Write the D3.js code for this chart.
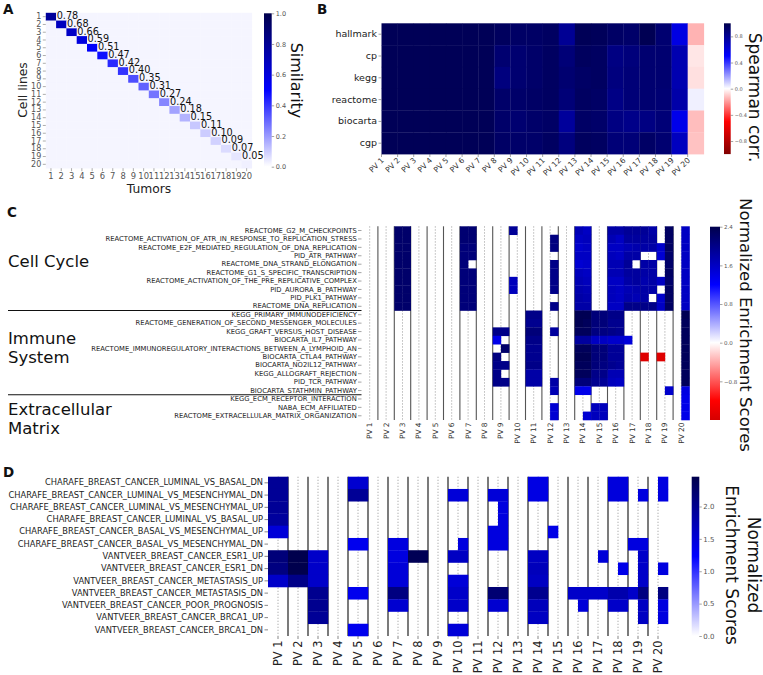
<!DOCTYPE html>
<html><head><meta charset="utf-8">
<script src="https://cdn.jsdelivr.net/npm/d3@7"></script>
<style>body{margin:0;background:#fff}svg{display:block;font-family:"DejaVu Sans",sans-serif}</style>
</head><body><svg id="chart" width="763" height="675"></svg>
<script>
const _ = null;
// ---------- Panel A ----------
const aTicks = ["1","2","3","4","5","6","7","8","9","10","11","12","13","14","15","16","17","18","19","20"];
const aDiag = [0.78,0.68,0.66,0.59,0.51,0.47,0.42,0.40,0.35,0.31,0.27,0.24,0.18,0.15,0.11,0.10,0.09,0.07,0.05,0.03];
const aOffDiag = 0.02;
const aLabels = ["0.78","0.68","0.66","0.59","0.51","0.47","0.42","0.40","0.35","0.31","0.27","0.24","0.18","0.15","0.11","0.10","0.09","0.07","0.05"];
const aCbTicks = [0.0,0.2,0.4,0.6,0.8,1.0];
// ---------- Panel B ----------
const bRows = ["hallmark","cp","kegg","reactome","biocarta","cgp"];
const pvNames = ["PV 1","PV 2","PV 3","PV 4","PV 5","PV 6","PV 7","PV 8","PV 9","PV 10","PV 11","PV 12","PV 13","PV 14","PV 15","PV 16","PV 17","PV 18","PV 19","PV 20"];
const bHallmark = [0.97,0.97,0.97,0.97,0.97,0.97,0.97,0.95,0.93,0.93,0.94,0.80,0.97,0.96,0.93,0.92,0.98,0.90,0.58,-0.15];
const bCp       = [0.97,0.97,0.97,0.97,0.97,0.97,0.97,0.90,0.90,0.92,0.94,0.88,0.95,0.94,0.85,0.87,0.90,0.90,0.72,-0.05];
const bKegg     = [0.97,0.97,0.97,0.97,0.97,0.97,0.97,0.86,0.90,0.92,0.94,0.90,0.93,0.94,0.86,0.88,0.90,0.90,0.72,-0.06];
const bReactome = [0.97,0.97,0.97,0.97,0.97,0.97,0.97,0.92,0.92,0.93,0.94,0.88,0.94,0.93,0.84,0.88,0.90,0.89,0.74,0.03];
const bBiocarta = [0.97,0.97,0.97,0.97,0.97,0.97,0.97,0.92,0.90,0.92,0.93,0.78,0.93,0.92,0.85,0.83,0.85,0.88,0.56,-0.13];
const bCgp      = [0.97,0.97,0.97,0.97,0.97,0.97,0.97,0.93,0.92,0.92,0.94,0.86,0.95,0.94,0.88,0.88,0.93,0.90,0.68,-0.12];
const bCbTicks = [0.8,0.4,0.0,-0.4,-0.8];
// ---------- Panel C ----------
const cRows = ["REACTOME_G2_M_CHECKPOINTS","REACTOME_ACTIVATION_OF_ATR_IN_RESPONSE_TO_REPLICATION_STRESS","REACTOME_E2F_MEDIATED_REGULATION_OF_DNA_REPLICATION","PID_ATR_PATHWAY","REACTOME_DNA_STRAND_ELONGATION","REACTOME_G1_S_SPECIFIC_TRANSCRIPTION","REACTOME_ACTIVATION_OF_THE_PRE_REPLICATIVE_COMPLEX","PID_AURORA_B_PATHWAY","PID_PLK1_PATHWAY","REACTOME_DNA_REPLICATION",
"KEGG_PRIMARY_IMMUNODEFICIENCY","REACTOME_GENERATION_OF_SECOND_MESSENGER_MOLECULES","KEGG_GRAFT_VERSUS_HOST_DISEASE","BIOCARTA_IL7_PATHWAY","REACTOME_IMMUNOREGULATORY_INTERACTIONS_BETWEEN_A_LYMPHOID_AN","BIOCARTA_CTLA4_PATHWAY","BIOCARTA_NO2IL12_PATHWAY","KEGG_ALLOGRAFT_REJECTION","PID_TCR_PATHWAY","BIOCARTA_STATHMIN_PATHWAY",
"KEGG_ECM_RECEPTOR_INTERACTION","NABA_ECM_AFFILIATED","REACTOME_EXTRACELLULAR_MATRIX_ORGANIZATION"];
const cGroups = [["Cell Cycle"],["Immune","System"],["Extracellular","Matrix"]];
// 40 sub-columns: two per PV (PV1 L,R ... PV20 L,R)
const cValues = [
[ _,_, _,_, 2.2,2.2, _,_, _,_, _,_, 2.15,2.15, _,_, _,_, 1.9,_, _,_, _,_, _,_, 1.7,1.6, _,_, 1.8,1.8, 1.9,1.9, 1.9,1.8, _,2.25, _,1.6 ],
[ _,_, _,_, 2.2,2.2, _,_, _,_, _,_, 2.15,2.15, _,_, _,_, _,_, _,_, _,2.05, _,_, 1.6,1.65, _,_, 1.7,1.6, 1.85,1.85, 1.85,1.85, _,2.25, _,1.6 ],
[ _,_, _,_, 2.2,2.2, _,_, _,_, _,_, 2.1,2.1, _,_, _,_, _,_, _,_, _,2.05, _,_, 1.55,1.6, _,_, 1.6,1.6, 1.7,1.75, 1.8,1.8, 1.55,2.25, _,1.6 ],
[ _,_, _,_, 2.2,2.2, _,_, _,_, _,_, 2.1,2.1, _,_, _,_, _,_, _,_, _,_, _,_, 1.6,1.6, _,_, 1.65,1.6, 1.8,1.8, _,_, 1.5,2.2, _,1.6 ],
[ _,_, _,_, 2.2,2.2, _,_, _,_, _,_, 2.1,_, _,_, _,_, _,_, _,_, _,2.0, _,_, 1.5,1.55, _,_, 1.7,1.7, 1.9,_, 1.8,1.8, _,2.2, _,1.6 ],
[ _,_, _,_, 2.2,2.2, _,_, _,_, _,_, 2.1,2.1, _,_, _,_, _,_, _,_, _,2.0, _,_, 1.65,1.6, _,_, 1.7,1.7, 1.85,1.85, 1.8,1.8, _,2.25, _,1.6 ],
[ _,_, _,_, 2.2,2.2, _,_, _,_, _,_, 2.1,2.1, _,_, _,_, 1.65,_, _,_, _,2.0, _,_, 1.7,1.65, _,_, 1.6,1.6, 1.8,1.85, 1.75,1.8, 1.6,2.2, _,1.6 ],
[ _,_, _,_, 2.2,2.2, _,_, _,_, _,_, 2.1,2.1, _,_, _,_, 1.65,_, _,_, _,2.0, _,_, 1.75,1.7, _,_, 1.65,1.6, 1.7,1.75, 1.8,1.8, _,2.25, _,1.6 ],
[ _,_, _,_, 2.2,2.2, _,_, _,_, _,_, 2.1,2.1, _,_, _,_, _,_, _,_, _,_, _,_, 1.8,1.75, _,_, 1.65,1.6, 1.75,1.7, 1.8,_, 1.55,2.25, _,1.6 ],
[ _,_, _,_, 2.2,2.2, _,_, _,_, _,_, 2.1,2.1, _,_, _,_, _,_, _,_, _,2.0, _,_, 1.8,1.8, _,_, 1.6,1.6, 2.0,2.0, 2.0,2.0, 1.6,2.25, _,1.6 ],
[ _,_, _,_, _,_, _,_, _,_, _,_, _,_, _,_, _,_, _,_, 2.0,2.0, _,_, _,_, 2.35,2.35, 2.1,2.1, 2.0,2.0, _,_, _,_, _,_, _,2.35 ],
[ _,_, _,_, _,_, _,_, _,_, _,_, _,_, _,_, _,_, _,_, 1.95,1.95, _,_, _,_, 2.35,2.3, 2.1,2.1, 1.95,1.95, _,_, _,_, _,_, _,2.3 ],
[ _,_, _,_, _,_, _,_, _,_, _,_, _,_, _,_, 2.0,2.0, _,_, 2.1,2.1, _,1.85, _,_, 2.3,2.3, 2.05,2.05, 2.0,1.95, _,_, _,_, _,_, _,2.3 ],
[ _,_, _,_, _,_, _,_, _,_, _,_, _,_, _,_, 1.35,_, _,_, 2.0,2.0, _,_, _,_, 1.85,1.85, 1.6,1.6, 1.55,1.55, 1.45,_, _,_, _,_, _,2.3 ],
[ _,_, _,_, _,_, _,_, _,_, _,_, _,_, _,_, _,2.2, _,_, 1.95,1.95, _,_, _,_, 2.3,2.3, 2.1,2.1, 1.9,1.9, _,_, _,_, _,_, _,2.3 ],
[ _,_, _,_, _,_, _,_, _,_, _,_, _,_, _,_, 2.05,_, _,_, 1.95,1.95, _,_, _,_, 2.35,2.35, 2.1,2.1, 1.9,1.9, _,_, -1.5,_, -1.5,_, _,2.3 ],
[ _,_, _,_, _,_, _,_, _,_, _,_, _,_, _,_, 2.0,2.0, _,_, 2.0,2.0, _,_, _,_, 2.3,2.3, 2.1,2.05, 1.95,1.9, _,_, _,_, _,_, _,2.3 ],
[ _,_, _,_, _,_, _,_, _,_, _,_, _,_, _,_, 2.0,_, _,_, 1.8,1.8, _,_, _,_, 2.3,2.3, 2.0,2.0, 1.7,1.7, _,_, _,_, _,_, _,2.3 ],
[ _,_, _,_, _,_, _,_, _,_, _,_, _,_, _,_, 2.0,2.0, _,_, 1.8,1.8, _,1.8, _,_, 2.1,2.1, 1.95,1.9, 1.65,1.6, _,_, _,_, _,_, _,2.3 ],
[ _,_, _,_, _,_, _,_, _,_, _,_, _,_, _,_, _,_, _,_, _,_, _,1.7, _,_, 1.35,1.35, _,_, _,_, _,_, _,_, _,1.55, _,1.4 ],
[ _,_, _,_, _,_, _,_, _,_, _,_, _,_, _,_, _,_, _,_, _,_, _,_, _,_, _,_, _,_, _,_, _,_, _,_, _,_, _,1.35 ],
[ _,_, _,_, _,_, _,_, _,_, _,_, _,_, _,_, _,_, _,_, _,_, _,1.5, _,_, _,_, 1.65,1.65, _,_, _,_, _,_, _,_, _,1.35 ],
[ _,_, _,_, _,_, _,_, _,_, _,_, _,_, _,_, _,_, _,_, _,_, _,1.5, _,_, _,1.5, 1.65,1.65, _,_, _,_, _,_, _,_, _,1.35 ]
];
const cCbTicks = [2.4,1.6,0.8,0.0,-0.8];
// ---------- Panel D ----------
const dRows = ["CHARAFE_BREAST_CANCER_LUMINAL_VS_BASAL_DN","CHARAFE_BREAST_CANCER_LUMINAL_VS_MESENCHYMAL_DN","CHARAFE_BREAST_CANCER_LUMINAL_VS_MESENCHYMAL_UP","CHARAFE_BREAST_CANCER_LUMINAL_VS_BASAL_UP","CHARAFE_BREAST_CANCER_BASAL_VS_MESENCHYMAL_UP","CHARAFE_BREAST_CANCER_BASAL_VS_MESENCHYMAL_DN","VANTVEER_BREAST_CANCER_ESR1_UP","VANTVEER_BREAST_CANCER_ESR1_DN","VANTVEER_BREAST_CANCER_METASTASIS_UP","VANTVEER_BREAST_CANCER_METASTASIS_DN","VANTVEER_BREAST_CANCER_POOR_PROGNOSIS","VANTVEER_BREAST_CANCER_BRCA1_UP","VANTVEER_BREAST_CANCER_BRCA1_DN"];
const dValues = [
[ 1.95,1.95, _,_, _,_, _,_, 1.55,1.55, _,_, _,_, _,_, _,_, _,_, _,_, _,_, _,_, 1.42,1.42, _,_, _,_, _,_, 1.47,1.47, _,_, _,1.44 ],
[ 1.95,1.95, _,_, _,_, _,_, 1.95,1.95, _,_, _,_, _,_, _,_, 1.5,1.5, _,_, 1.5,1.5, _,_, 1.42,1.42, _,_, _,_, _,_, 1.47,1.47, _,1.45, _,1.44 ],
[ 1.95,1.95, _,_, _,_, _,_, _,_, _,_, _,_, _,_, _,_, _,_, _,_, _,1.45, _,_, _,_, _,_, _,_, _,_, _,_, _,_, _,_ ],
[ 1.9,1.9, _,_, _,_, _,_, _,_, _,_, _,_, _,_, _,_, _,_, _,_, _,1.45, _,_, _,_, _,_, _,_, _,_, _,_, _,_, _,_ ],
[ 1.5,1.5, _,_, _,_, _,_, _,_, _,_, _,_, _,_, _,_, _,_, _,_, 1.45,1.45, _,_, _,_, 1.4,_, _,_, _,_, _,_, _,_, _,_ ],
[ _,_, _,_, _,_, _,_, 1.35,1.35, _,_, 1.45,1.45, _,_, _,_, _,1.45, _,_, 1.45,1.45, _,_, _,_, _,_, _,_, _,_, _,_, 1.45,1.45, _,_ ],
[ 2.15,2.15, 2.45,2.45, 1.6,1.6, _,_, _,_, _,_, 1.45,1.45, 2.4,2.4, _,_, 1.65,1.65, _,_, _,_, _,_, 1.65,1.65, _,_, _,_, _,1.5, _,_, _,1.6, _,_ ],
[ 2.1,2.1, 2.45,2.45, 1.6,1.6, _,_, _,_, _,_, 1.5,1.5, _,_, _,_, _,_, _,_, _,_, _,_, 1.7,1.7, _,_, _,_, _,_, _,1.38, _,1.6, _,1.45 ],
[ 1.6,1.6, 2.05,2.05, 1.6,1.6, _,_, _,_, _,_, 1.5,1.5, _,_, _,_, 1.5,1.5, _,_, _,_, _,_, 1.65,1.65, _,_, _,_, _,_, _,_, _,1.6, _,_ ],
[ _,_, _,_, 2.0,2.0, _,_, 1.35,1.35, _,_, 2.1,2.1, _,_, _,_, 1.6,1.6, _,_, 2.2,2.2, _,_, 2.0,2.0, _,_, 1.6,1.6, 1.6,1.6, 1.8,1.8, 1.6,2.1, _,2.1 ],
[ _,_, _,_, 2.0,2.0, _,_, _,_, _,_, 1.55,1.55, _,_, _,_, 1.6,1.6, _,_, 1.55,1.55, _,_, 1.7,1.7, _,_, _,1.5, _,_, 1.6,1.6, _,1.65, _,1.45 ],
[ _,_, _,_, 1.95,1.95, _,_, _,_, _,_, _,_, _,_, _,_, _,_, _,_, _,_, _,_, 1.65,1.65, _,_, _,_, _,_, _,_, _,1.65, _,1.45 ],
[ _,_, _,_, _,_, _,_, 1.35,1.35, _,_, _,_, _,_, _,_, 1.5,1.5, _,_, _,_, _,_, _,_, _,_, _,_, _,_, _,_, _,_, _,_ ]
];
const dCbTicks = [0.0,0.5,1.0,1.5,2.0];

// ---------- helpers ----------
const svg = d3.select("#chart");
const seis = d3.scaleLinear().domain([-1,-0.5,0,0.5,1])
  .range(["#800000","#ff0000","#ffffff","#0000ff","#00004c"]).clamp(true);
const defs = svg.append("defs");
let gradId = 0;
function colorbar(x, y0, y1, w, lo, hi, colorFn, ticks, fmt, fs){
  const id = "g"+(gradId++);
  const g = defs.append("linearGradient").attr("id",id).attr("x1",0).attr("y1",1).attr("x2",0).attr("y2",0);
  d3.range(0,61).forEach(i=>{ const v = lo+(hi-lo)*i/60;
    g.append("stop").attr("offset",i/60).attr("stop-color",colorFn(v)); });
  svg.append("rect").attr("x",x).attr("y",y0).attr("width",w).attr("height",y1-y0).attr("fill","url(#"+id+")");
  const s = d3.scaleLinear().domain([lo,hi]).range([y1,y0]);
  const ax = svg.append("g").attr("transform",`translate(${x+w},0)`)
    .call(d3.axisRight(s).tickValues(ticks).tickFormat(fmt).tickSize(2.5).tickPadding(1.5));
  ax.select(".domain").remove();
  ax.selectAll("line").attr("stroke","#666").attr("stroke-width",0.6);
  ax.selectAll("text").attr("font-size",fs).attr("fill","#555").attr("font-family","DejaVu Sans");
}
function panelLetter(t,x,y){ svg.append("text").attr("x",x).attr("y",y).attr("font-size",13.5).attr("font-weight","bold").attr("fill","#111").text(t); }
function rotTitle(t,x,y,fs){ svg.append("text").attr("transform",`translate(${x},${y}) rotate(90)`).attr("text-anchor","middle").attr("font-size",fs).attr("fill","#111").text(t); }

// ---------- Panel A ----------
panelLetter("A",3,13.5);
const xA = d3.scaleBand().domain(aTicks).range([45.8,251.8]);
const yA = d3.scaleBand().domain(aTicks).range([12.8,168.2]);
const aCells = [];
aTicks.forEach((r,i)=>aTicks.forEach((c,j)=>aCells.push({r,c,v: i===j ? aDiag[i] : aOffDiag})));
svg.append("g").selectAll("rect").data(aCells).join("rect")
  .attr("x",d=>xA(d.c)).attr("y",d=>yA(d.r)).attr("width",xA.bandwidth()+0.3).attr("height",yA.bandwidth()+0.3)
  .attr("fill",d=>seis(d.v));
svg.append("g").selectAll("text").data(aLabels).join("text")
  .attr("x",(d,i)=>xA(aTicks[i])+xA.bandwidth()+0.6).attr("y",(d,i)=>yA(aTicks[i])+yA.bandwidth()/2-1)
  .attr("dy","0.35em").attr("font-size",9.7).attr("fill","#111").text(d=>d);
{
  const ay = svg.append("g").attr("transform","translate(45.8,0)").call(d3.axisLeft(yA).tickSize(3).tickPadding(1.5));
  ay.select(".domain").remove();
  ay.selectAll("line").attr("stroke","#777").attr("stroke-width",0.6);
  ay.selectAll("text").attr("font-size",8).attr("fill","#555").attr("font-family","DejaVu Sans");
  const ax = svg.append("g").attr("transform","translate(0,168.2)").call(d3.axisBottom(xA).tickSize(3).tickPadding(1.5));
  ax.select(".domain").remove();
  ax.selectAll("line").attr("stroke","#777").attr("stroke-width",0.6);
  ax.selectAll("text").attr("font-size",8.4).attr("fill","#555").attr("font-family","DejaVu Sans");
}
svg.append("text").attr("x",149).attr("y",193).attr("text-anchor","middle").attr("font-size",12.3).attr("fill","#222").text("Tumors");
svg.append("text").attr("transform","translate(26.5,90) rotate(-90)").attr("text-anchor","middle").attr("font-size",12.3).attr("fill","#222").text("Cell lines");
colorbar(264,13.3,166.7,7.7,0,1,v=>seis(v),aCbTicks,d3.format(".1f"),6.5);
rotTitle("Similarity",291,80.5,16);

// ---------- Panel B ----------
panelLetter("B",317,14);
const bData = [bHallmark,bCp,bKegg,bReactome,bBiocarta,bCgp];
const xB = d3.scaleBand().domain(pvNames).range([381.5,703.8]);
const yB = d3.scaleBand().domain(bRows).range([23.3,154.1]);
const bCells = [];
bRows.forEach((r,i)=>pvNames.forEach((c,j)=>bCells.push({r,c,v:bData[i][j]})));
svg.append("g").selectAll("rect").data(bCells).join("rect")
  .attr("x",d=>xB(d.c)).attr("y",d=>yB(d.r)).attr("width",xB.bandwidth()+0.3).attr("height",yB.bandwidth()+0.3)
  .attr("fill",d=>seis(d.v));
{
  const ay = svg.append("g").attr("transform","translate(381.5,0)").call(d3.axisLeft(yB).tickSize(3).tickPadding(1.5));
  ay.select(".domain").remove();
  ay.selectAll("line").attr("stroke","#666").attr("stroke-width",0.6);
  ay.selectAll("text").attr("font-size",9.5).attr("fill","#222").attr("font-family","DejaVu Sans");
  const g = svg.append("g");
  g.selectAll("line").data(pvNames).join("line").attr("x1",d=>xB(d)).attr("x2",d=>xB(d)).attr("y1",154.1).attr("y2",157).attr("stroke","#666").attr("stroke-width",0.6);
  g.selectAll("text").data(pvNames).join("text")
    .attr("transform",d=>`translate(${xB(d)+1},${159}) rotate(-45)`).attr("text-anchor","end").attr("dy","0.35em")
    .attr("font-size",7.6).attr("fill","#333").text(d=>d);
}
colorbar(724,23.3,154.1,6.7,-1,1,v=>seis(v),bCbTicks,d3.format(".1f"),5);
rotTitle("Spearman corr.",748.5,97.5,17);

// ---------- Panel C ----------
panelLetter("C",7,217);
const subCols = [];
pvNames.forEach(p=>{ subCols.push(p+" L"); subCols.push(p+" R"); });
const xC = d3.scaleBand().domain(subCols).range([361.5,689.5]);
const xCpv = d3.scaleBand().domain(pvNames).range([361.5,689.5]);
const yC = d3.scaleBand().domain(cRows).range([226.3,420]);
function gridLines(xpv, ya, yb, solidCol, solidW){
  const g = svg.append("g");
  g.selectAll("line.s").data(pvNames.slice(1)).join("line").attr("class","s")
    .attr("x1",d=>xpv(d)).attr("x2",d=>xpv(d)).attr("y1",ya).attr("y2",yb).attr("stroke",solidCol).attr("stroke-width",solidW);
  g.selectAll("line.d").data(pvNames).join("line").attr("class","d")
    .attr("x1",d=>xpv(d)+xpv.bandwidth()/2).attr("x2",d=>xpv(d)+xpv.bandwidth()/2).attr("y1",ya).attr("y2",yb)
    .attr("stroke","#999").attr("stroke-width",0.8).attr("stroke-dasharray","1.3,1.7");
}
gridLines(xCpv,226.3,420,"#555",1.1);
const cCells = [];
cRows.forEach((r,i)=>subCols.forEach((c,j)=>{ if(cValues[i][j]!==null) cCells.push({r,c,v:cValues[i][j]}); }));
svg.append("g").selectAll("rect").data(cCells).join("rect")
  .attr("x",d=>xC(d.c)).attr("y",d=>yC(d.r)).attr("width",xC.bandwidth()+0.3).attr("height",yC.bandwidth()+0.3)
  .attr("fill",d=>seis(d.v/2.4));
{
  const ay = svg.append("g").attr("transform","translate(361.5,0)").call(d3.axisLeft(yC).tickSize(3.5).tickPadding(1.2));
  ay.select(".domain").remove();
  ay.selectAll("line").attr("stroke","#666").attr("stroke-width",0.6);
  ay.selectAll("text").attr("font-size",6.8).attr("fill","#222").attr("font-family","DejaVu Sans");
  const g = svg.append("g");
  g.selectAll("text").data(pvNames).join("text")
    .attr("transform",d=>`translate(${xCpv(d)+xCpv.bandwidth()/2},${422.5}) rotate(-90)`).attr("text-anchor","end").attr("dy","0.35em")
    .attr("font-size",7.4).attr("fill","#333").text(d=>d);
}
const sepRows = [cRows[10], cRows[20]];
svg.append("g").selectAll("line").data(sepRows).join("line")
  .attr("x1",8).attr("x2",361.5).attr("y1",d=>yC(d)).attr("y2",d=>yC(d)).attr("stroke","#111").attr("stroke-width",1.1);
const groupPos = [[266.5],[343.5,362.5],[415,434]];
cGroups.forEach((lines,gi)=>lines.forEach((t,li)=>{
  svg.append("text").attr("x",8).attr("y",groupPos[gi][li]).attr("font-size",16.5).attr("fill","#111").text(t);
}));
colorbar(710,226.7,420,10,-1.6,2.4,v=>seis(v/2.4),cCbTicks,d3.format(".1f"),5.5);
rotTitle("Normalized Enrichment Scores",739.5,325,16.5);

// ---------- Panel D ----------
panelLetter("D",3,477);
const xD = d3.scaleBand().domain(subCols).range([268,668]);
const xDpv = d3.scaleBand().domain(pvNames).range([268,668]);
const yD = d3.scaleBand().domain(dRows).range([476.7,636]);
gridLines(xDpv,476.7,636,"#333",1.3);
const dCells = [];
dRows.forEach((r,i)=>subCols.forEach((c,j)=>{ if(dValues[i][j]!==null) dCells.push({r,c,v:dValues[i][j]}); }));
svg.append("g").selectAll("rect").data(dCells).join("rect")
  .attr("x",d=>xD(d.c)).attr("y",d=>yD(d.r)).attr("width",xD.bandwidth()+0.3).attr("height",yD.bandwidth()+0.3)
  .attr("fill",d=>seis(d.v/2.46));
{
  const ay = svg.append("g").attr("transform","translate(268,0)").call(d3.axisLeft(yD).tickSize(3.5).tickPadding(1.5));
  ay.select(".domain").remove();
  ay.selectAll("line").attr("stroke","#555").attr("stroke-width",0.7);
  ay.selectAll("text").attr("font-size",8.3).attr("fill","#222").attr("font-family","DejaVu Sans");
  const g = svg.append("g");
  g.selectAll("line").data(pvNames).join("line")
    .attr("x1",d=>xDpv(d)+xDpv.bandwidth()/2).attr("x2",d=>xDpv(d)+xDpv.bandwidth()/2).attr("y1",636).attr("y2",639)
    .attr("stroke","#555").attr("stroke-width",0.7);
  g.selectAll("text").data(pvNames).join("text")
    .attr("transform",d=>`translate(${xDpv(d)+xDpv.bandwidth()/2},${640.5}) rotate(-90)`).attr("text-anchor","end").attr("dy","0.35em")
    .attr("font-size",11.4).attr("fill","#222").text(d=>d);
}
colorbar(691.7,476.7,636,7.6,0,2.46,v=>seis(v/2.46),dCbTicks,d3.format(".1f"),7);
rotTitle("Normalized",747.5,565,17);
rotTitle("Enrichment Scores",725.8,565,17);
</script></body></html>
